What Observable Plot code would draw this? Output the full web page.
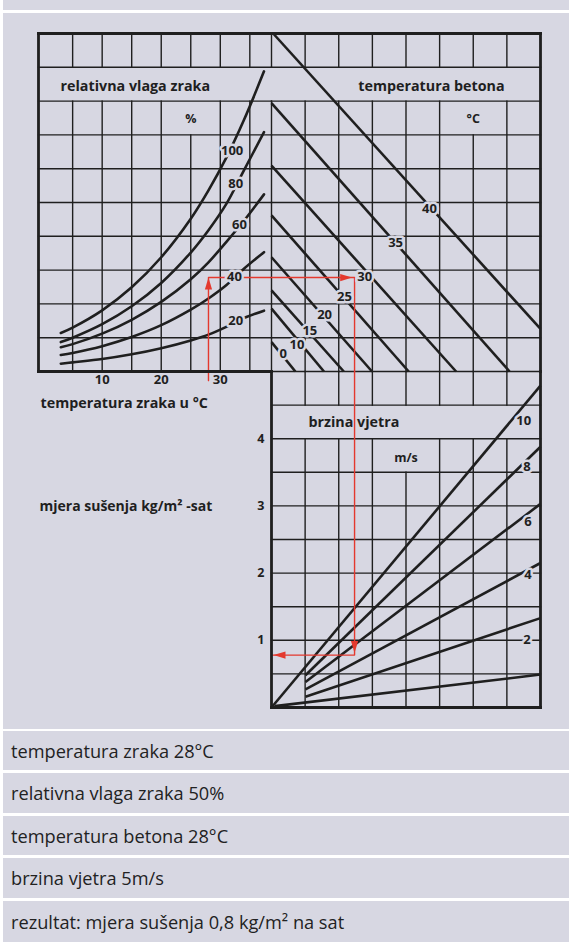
<!DOCTYPE html>
<html lang="hr">
<head>
<meta charset="utf-8">
<script src="https://cdn.jsdelivr.net/npm/d3@7"></script>
<script src="https://cdn.jsdelivr.net/npm/@observablehq/plot@0.6"></script>
<style>
  html, body { margin: 0; padding: 0; background: #ffffff; }
  #wrap { position: relative; width: 569px; height: 942px; overflow: hidden; font-family: "Open Sans", sans-serif; }
  .band { position: absolute; left: 3px; right: 0; background: #d7d7e2; }
  #chart { position: absolute; left: 0; top: 0; width: 569px; height: 730px; }
  #chart svg { position: absolute; left: 0; top: 0; }
  .row { position: absolute; left: 3px; right: 0; background: #d7d7e2; color: #222; font-size: 18.2px;
         display: flex; align-items: center; padding-left: 8px; box-sizing: border-box; }
</style>
</head>
<body>
<div id="wrap">
  <div class="band" style="top:0;height:10px"></div>
  <div class="band" style="top:13px;height:716px"></div>
  <div id="chart"></div>
  <div id="rows"></div>
</div>
<script>
// ---------------- DATA ----------------
// Humidity panel: air temperature (°C) grid and ticks
const airTempGrid = [5, 10, 15, 20, 25, 30, 35];
const airTempTicks = [10, 20, 30];
// relative humidity curves, heights in chart rows at these air temperatures
const rhTemps = [3, 5, 10, 15, 20, 25, 28, 31, 34, 37.4];
const rh100 = [1.14, 1.30, 1.81, 2.49, 3.38, 4.52, 5.36, 6.32, 7.44, 8.88];
const rh80  = [0.87, 1.00, 1.40, 1.93, 2.62, 3.52, 4.18, 4.95, 5.95, 7.08];
const rh60  = [0.72, 0.81, 1.12, 1.53, 2.06, 2.73, 3.23, 3.83, 4.46, 5.24];
const rh40  = [0.49, 0.55, 0.75, 1.02, 1.37, 1.83, 2.16, 2.55, 3.04, 3.53];
const rh20  = [0.23, 0.27, 0.37, 0.51, 0.69, 0.92, 1.09, 1.32, 1.58, 1.80];
const rhLevels = [100, 80, 60, 40, 20];
const rhLabelTemp = [32.0, 32.6, 33.25, 32.4, 32.6];
const rhLabelRow = [6.52, 5.55, 4.35, 2.79, 1.49];

// Concrete temperature panel (columns 0–8, rows 0–10)
const concreteTemps = [40, 35, 30, 25, 20, 15, 10, 0];
const concreteStartCol = [0.05, 0, 0, 0, 0, 0, 0, 0];
const concreteStartRow = [10, 7.94, 6.09, 4.62, 3.38, 2.40, 1.86, 0.87];
const concreteEndCol = [8, 7.08, 5.49, 4.08, 2.99, 2.15, 1.56, 0.71];
const concreteEndRow = [1.26, 0, 0, 0, 0, 0, 0, 0];
const concreteLabelCol = [4.70, 3.69, 2.77, 2.17, 1.58, 1.14, 0.76, 0.35];
const concreteLabelRow = [4.81, 3.80, 2.81, 2.22, 1.69, 1.19, 0.80, 0.52];

// Wind speed panel: drying rate kg/m² per hour
const rateGrid = [0.5, 1, 1.5, 2, 2.5, 3, 3.5, 4, 4.5];
const rateTicks = [1, 2, 3, 4];
const windSpeeds = [10, 8, 6, 4, 2, 0];
const windStartCol = [0, 1.01, 1.01, 1.01, 1.01, 0.1];
const windStartRate = [0, 0.48, 0.38, 0.27, 0.16, 0.02];
const windEndRate = [4.79, 3.88, 3.03, 2.15, 1.33, 0.49];
const windLabels = ["10", "8", "6", "4", "2"];
const windLabelCol = [7.50, 7.60, 7.63, 7.63, 7.60];
const windLabelRate = [4.26, 3.58, 2.76, 1.98, 1.00];

// Worked example (red path)
const exampleAirTemp = 28;
const exampleRow = 2.78;      // 50 % humidity at 28 °C
const exampleCol = 2.47;      // concrete temperature 28 °C
const exampleRate = 0.78;     // result ≈ 0.8 kg/m² h
const exampleLines = [
  "temperatura zraka 28°C",
  "relativna vlaga zraka 50%",
  "temperatura betona 28°C",
  "brzina vjetra 5m/s",
  "rezultat: mjera sušenja 0,8 kg/m² na sat"
];

// ---------------- LAYOUT / STYLE ----------------
const W = 569, H = 730;
const BG = "#d7d7e2", INK = "#1f1f1f", RED = "#e4392e";
const GRID_W = 1.4, BORDER_W = 2.8, CURVE_W = 2.6;
const baseStyle = {background: "transparent", overflow: "visible", fontFamily: "'Open Sans', sans-serif", color: INK};
const P1 = {left: 38, right: 271, top: 33, bottom: 371};
const P2 = {left: 271, right: 540, top: 33, bottom: 371};
const P3 = {left: 271, right: 540, top: 371, bottom: 707};
const margins = p => ({marginLeft: p.left, marginRight: W - p.right, marginTop: p.top, marginBottom: H - p.bottom});
const airDomain = [-0.78, 38.67];
const rowsAll = d3.range(1, 10);
const cols = d3.range(1, 8);

const seg = (x1, y1, x2, y2) => ({x1, y1, x2, y2});
function columnSegments(xs, yMin, yMax, bandLo, bandHi, mergedX, mergedLo) {
  const out = [];
  for (const x of xs) {
    out.push(seg(x, yMin, x, x === mergedX ? mergedLo : bandLo));
    out.push(seg(x, bandHi, x, yMax));
  }
  return out;
}
const linkOpts = w => ({x1: "x1", y1: "y1", x2: "x2", y2: "y2", stroke: INK, strokeWidth: w, strokeLinecap: "square"});
const halo = {stroke: BG, strokeWidth: 5, paintOrder: "stroke", fill: INK, fontWeight: "bold", fontSize: 13};
const bold = (size) => ({fill: INK, fontWeight: "bold", fontSize: size});
const arrowHead = {draw(ctx) { ctx.moveTo(0, 0); ctx.lineTo(3.6, 12); ctx.lineTo(-3.6, 12); ctx.closePath(); }};
const TITLE_SIZE = 14.3;

// ---------------- PANEL 1: relative humidity ----------------
const rhSeries = [rh100, rh80, rh60, rh40, rh20];
const rhData = rhLevels.flatMap((lvl, i) => rhTemps.map((t, j) => ({level: lvl, t, v: rhSeries[i][j]})));
const rhLabelData = rhLevels.map((lvl, i) => ({text: String(lvl), t: rhLabelTemp[i], v: rhLabelRow[i]}));
const [d0, d1] = airDomain;

const p1 = Plot.plot({
  width: W, height: H, ...margins(P1),
  x: {domain: airDomain}, y: {domain: [0, 10], axis: null},
  style: baseStyle,
  marks: [
    Plot.link(columnSegments(airTempGrid, 0, 10, 8, 9, 25, 7), linkOpts(GRID_W)),
    Plot.link(rowsAll.map(r => seg(d0, r, d1, r)), linkOpts(GRID_W)),
    Plot.line(rhData, {x: "t", y: "v", z: "level", curve: "catmull-rom", stroke: INK, strokeWidth: CURVE_W}),
    Plot.line([[exampleAirTemp, -0.27], [exampleAirTemp, exampleRow], [d1, exampleRow]], {stroke: RED, strokeWidth: 1.4}),
    Plot.dot([[exampleAirTemp, exampleRow]], {symbol: arrowHead, fill: RED, stroke: "none", rotate: 0}),
    Plot.link([seg(d0, 0, d0, 10), seg(d0, 10, d1, 10), seg(d0, 0, d1, 0)], linkOpts(BORDER_W)),
    Plot.text(rhLabelData, {x: "t", y: "v", text: "text", ...halo}),
    Plot.text(["relativna vlaga zraka"], {x: 2.95, y: 8.42, textAnchor: "start", ...bold(TITLE_SIZE)}),
    Plot.text(["%"], {x: 25, y: 7.46, ...bold(12.5)}),
    Plot.text(["temperatura zraka u °C"], {x: -0.44, y: -0.95, textAnchor: "start", ...bold(TITLE_SIZE)}),
    Plot.axisX({ticks: airTempTicks, tickSize: 0, tickPadding: 3, label: null, fontWeight: "bold", fontSize: 13, fill: INK})
  ]
});

// ---------------- PANEL 2: concrete temperature ----------------
const concreteData = concreteTemps.map((c, i) => seg(concreteStartCol[i], concreteStartRow[i], concreteEndCol[i], concreteEndRow[i]));
const concreteLabelData = concreteTemps.map((c, i) => ({text: String(c), x: concreteLabelCol[i], y: concreteLabelRow[i]}));
const p2 = Plot.plot({
  width: W, height: H, ...margins(P2),
  x: {domain: [0, 8], axis: null}, y: {domain: [0, 10], axis: null},
  style: baseStyle,
  marks: [
    Plot.link(columnSegments([0, ...cols], 0, 10, 8, 9, 6, 7), linkOpts(GRID_W)),
    Plot.link([0, ...rowsAll].map(r => seg(0, r, 8, r)), linkOpts(GRID_W)),
    Plot.link(concreteData, {x1: "x1", y1: "y1", x2: "x2", y2: "y2", stroke: INK, strokeWidth: CURVE_W}),
    Plot.line([[0, exampleRow], [exampleCol, exampleRow], [exampleCol, 0]], {stroke: RED, strokeWidth: 1.4}),
    Plot.dot([[exampleCol - 0.07, exampleRow]], {symbol: arrowHead, fill: RED, stroke: "none", rotate: 90}),
    Plot.link([seg(0, 10, 8, 10), seg(8, 0, 8, 10)], linkOpts(BORDER_W)),
    Plot.text(concreteLabelData, {x: "x", y: "y", text: "text", ...halo}),
    Plot.text(["temperatura betona"], {x: 2.58, y: 8.44, textAnchor: "start", ...bold(TITLE_SIZE)}),
    Plot.text(["°C"], {x: 6, y: 7.46, ...bold(12.5)})
  ]
});

// ---------------- PANEL 3: wind speed → drying rate ----------------
const windData = windSpeeds.map((w, i) => seg(windStartCol[i], windStartRate[i], 8, windEndRate[i]));
const windLabelData = windLabels.map((s, i) => ({text: s, x: windLabelCol[i], y: windLabelRate[i]}));
const p3 = Plot.plot({
  width: W, height: H, ...margins(P3),
  x: {domain: [0, 8], axis: null}, y: {domain: [0, 5]},
  style: baseStyle,
  marks: [
    Plot.link(columnSegments(cols, 0, 5, 4, 4.5, 4, 3.5), linkOpts(GRID_W)),
    Plot.link(rateGrid.map(v => seg(0, v, 8, v)), linkOpts(GRID_W)),
    Plot.link(windData, {x1: "x1", y1: "y1", x2: "x2", y2: "y2", stroke: INK, strokeWidth: CURVE_W}),
    Plot.line([[exampleCol, 5], [exampleCol, exampleRate], [0.02, exampleRate]], {stroke: RED, strokeWidth: 1.4}),
    Plot.dot([[exampleCol, exampleRate + 0.03]], {symbol: arrowHead, fill: RED, stroke: "none", rotate: 180}),
    Plot.dot([[0.06, exampleRate]], {symbol: arrowHead, fill: RED, stroke: "none", rotate: 270}),
    Plot.link([seg(0, 0, 0, 5), seg(0, 0, 8, 0), seg(8, 0, 8, 5)], linkOpts(BORDER_W)),
    Plot.text(windLabelData, {x: "x", y: "y", text: "text", ...halo}),
    Plot.text(["brzina vjetra"], {x: 1.10, y: 4.24, textAnchor: "start", ...bold(TITLE_SIZE)}),
    Plot.text(["m/s"], {x: 4, y: 3.72, ...bold(12.5)}),
    Plot.text(["mjera sušenja kg/m² -sat"], {x: -6.9, y: 2.99, textAnchor: "start", ...bold(14)}),
    Plot.axisY({ticks: rateTicks, tickFormat: d => String(d), tickSize: 0, tickPadding: 7, label: null, fontWeight: "bold", fontSize: 12.5, fill: INK})
  ]
});

const chart = document.getElementById("chart");
chart.append(p1, p2, p3);

// ---------------- example rows ----------------
const rowTops = [731, 773, 816, 858, 901, 945];
const rows = document.getElementById("rows");
exampleLines.forEach((txt, i) => {
  const div = document.createElement("div");
  div.className = "row";
  div.style.top = rowTops[i] + "px";
  div.style.height = (rowTops[i + 1] - 3 - rowTops[i]) + "px";
  div.textContent = txt;
  rows.append(div);
});
</script>
</body>
</html>
